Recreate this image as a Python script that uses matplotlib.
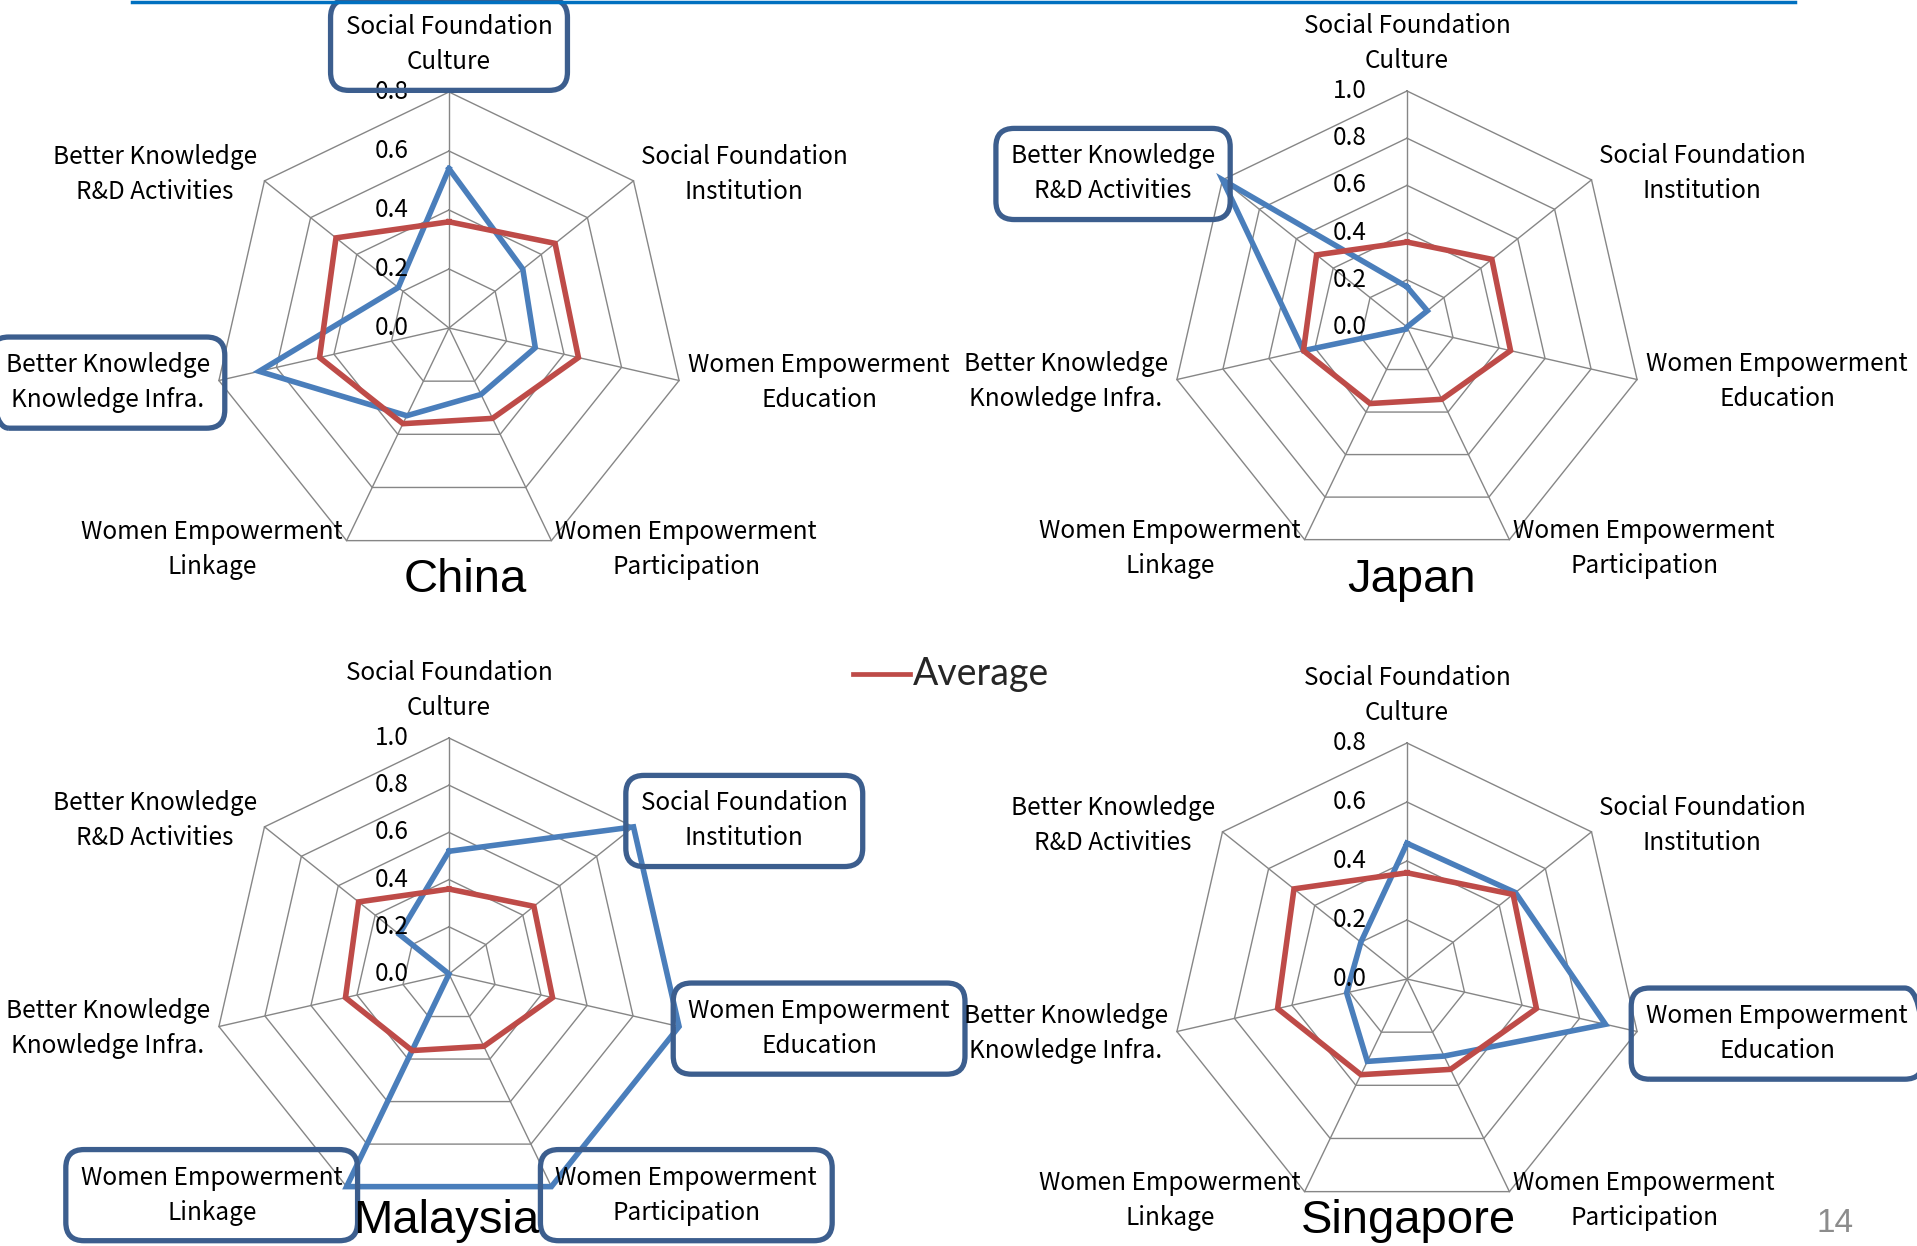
import numpy as np
import matplotlib.pyplot as plt
from matplotlib.lines import Line2D

W, H = 1917, 1246
DPI = 100

categories = ["Social Foundation\nCulture", "Social Foundation\nInstitution",
              "Women Empowerment\nEducation", "Women Empowerment\nParticipation",
              "Women Empowerment\nLinkage", "Better Knowledge\nKnowledge Infra.",
              "Better Knowledge\nR&D Activities"]

average = [0.36, 0.46, 0.45, 0.34, 0.36, 0.45, 0.49]
china = [0.54, 0.32, 0.30, 0.25, 0.33, 0.66, 0.22]
japan = [0.17, 0.11, 0.0, 0.0, 0.01, 0.45, 1.0]
malaysia = [0.52, 1.0, 1.0, 1.0, 1.0, 0.0, 0.27]
singapore = [0.46, 0.47, 0.69, 0.29, 0.31, 0.21, 0.20]

countries = ["China", "Japan", "Malaysia", "Singapore"]
scores = [china, japan, malaysia, singapore]
axis_max = [0.8, 1.0, 1.0, 0.8]
# categories that get a box drawn round their label
highlight = [[0, 5], [6], [1, 2, 3, 4], [2]]

# chart centres and title positions in pixels (from top left)
centers = [(449, 328), (1407, 327), (449, 974), (1407, 979)]
title_pos = [(465, 580), (1412, 580), (446, 1221), (1408, 1221)]
R = 236

BLUE = "#4A7EBB"
RED = "#BE4B48"
GRID = "#868686"
BOX = "#3C5E8E"
LABEL_FONT = ["Noto Sans CJK KR", "DejaVu Sans"]

fig = plt.figure(figsize=(W / DPI, H / DPI), dpi=DPI)

theta = np.linspace(0, 2 * np.pi, len(categories), endpoint=False)
closed = np.append(theta, theta[0])

# label placement: (radius factor, ha, va)
label_place = [(1.2, "center", "center"), (1.04, "left", "center"),
               (1.04, "left", "center"), (1.04, "left", "center"),
               (1.04, "right", "center"), (1.04, "right", "center"),
               (1.04, "right", "center")]

for k in range(4):
    cx, cy = centers[k]
    vmax = axis_max[k]
    ax = fig.add_axes([(cx - R) / W, 1 - (cy + R) / H, 2 * R / W, 2 * R / H],
                      projection="polar")
    ax.set_theta_zero_location("N")
    ax.set_theta_direction(-1)
    ax.axis("off")

    levels = np.round(np.arange(0, vmax + 1e-9, 0.2), 1)
    # heptagon rings and spokes
    for lev in levels[1:]:
        ax.plot(closed, [lev] * len(closed), color=GRID, lw=1.0, clip_on=False, zorder=1)
    for t in theta:
        ax.plot([t, t], [0, vmax], color=GRID, lw=1.0, clip_on=False, zorder=1)

    vals = scores[k]
    ax.plot(closed, vals + vals[:1], color=BLUE, lw=4.0, clip_on=False, zorder=3,
            solid_joinstyle="miter")
    ax.plot(closed, average + average[:1], color=RED, lw=4.0, clip_on=False, zorder=4,
            solid_joinstyle="miter")
    ax.set_ylim(0, vmax)

    for lev in levels:
        ax.annotate(f"{lev:.1f}", xy=(0, lev), xytext=(-40, 0), textcoords="offset pixels",
                    ha="right", va="center", fontsize=17.5, family=LABEL_FONT,
                    color="black", zorder=5, annotation_clip=False)

    for i, lab in enumerate(categories):
        rf, ha, va = label_place[i]
        box = None
        if i in highlight[k]:
            box = dict(boxstyle="round,pad=0.62,rounding_size=0.75", fc="none",
                       ec=BOX, lw=3.8)
        ax.text(theta[i], vmax * rf, lab, ha=ha, va=va, multialignment="center",
                fontsize=17.5, family=LABEL_FONT, linespacing=1.45, bbox=box,
                clip_on=False, zorder=6)

    tx, ty = title_pos[k]
    fig.text(tx / W, 1 - ty / H, countries[k], ha="center", va="center",
             fontsize=34, family=["Liberation Sans", "DejaVu Sans"])

# legend for the average series
fig.add_artist(Line2D([853 / W, 910 / W], [1 - 674 / H] * 2, color=RED, lw=3.4))
fig.text(913 / W, 1 - 674 / H, "Average", ha="left", va="center", fontsize=27,
         color="#262626", family=["Lato", "DejaVu Sans"])

# rule along the top and page number
fig.add_artist(Line2D([132 / W, 1795 / W], [1 - 1.5 / H] * 2, color="#0070C0", lw=2.5))
fig.text(1835 / W, 1 - 1223 / H, "14", ha="center", va="center", fontsize=24,
         color="#8C8C8C", family=["Liberation Sans", "DejaVu Sans"])

fig.savefig("out.png", dpi=DPI)
